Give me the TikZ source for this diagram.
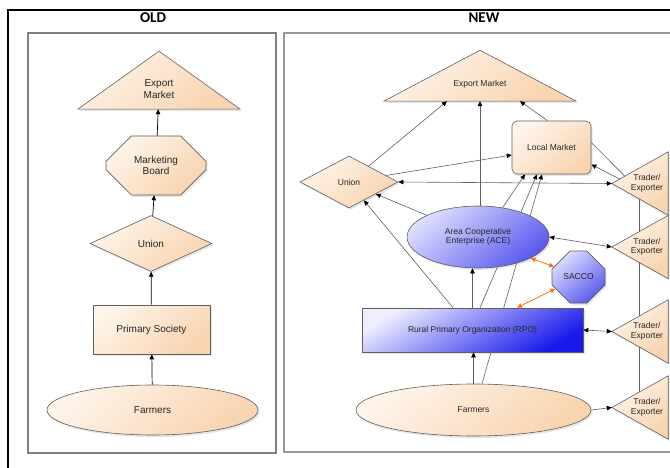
\documentclass[tikz,border=0pt]{standalone}
\usepackage{fontspec}
\setmainfont{Liberation Sans}
\newfontfamily\titlefont{Carlito}
\usetikzlibrary{shapes.geometric,shapes.misc,arrows.meta,shadows,backgrounds,calc}

\definecolor{peachA}{RGB}{254,244,234}
\definecolor{peachB}{RGB}{248,212,176}
\definecolor{rpoA}{RGB}{238,238,255}
\definecolor{rpoB}{RGB}{25,25,235}
\definecolor{aceA}{RGB}{222,222,255}
\definecolor{aceB}{RGB}{90,90,238}
\definecolor{edgegray}{RGB}{95,95,95}
\definecolor{cashline}{RGB}{255,112,20}

\begin{document}
\begin{tikzpicture}[x=1pt,y=-1pt,
  box/.style={draw=edgegray, line width=0.6pt, inner sep=0pt, text=black!85,
    drop shadow={shadow xshift=1.5pt, shadow yshift=-2pt, opacity=0.2}},
  peach/.style={box, top color=peachA, bottom color=peachB, shading angle=40},
  bluish/.style={box, top color=aceA, bottom color=aceB, shading angle=40},
  tribody/.style={draw=edgegray, line width=0.6pt, top color=peachA, bottom color=peachB, shading angle=40,
    drop shadow={shadow xshift=1.5pt, shadow yshift=-2pt, opacity=0.2}},
  triarea/.style={inner sep=0pt, text=black!85, align=center},
  trader/.style={triarea, minimum width=42pt, minimum height=63pt, font=\fontsize{8.5}{9.5}\selectfont},
  up/.style={draw=black, line width=0.7pt, -{Triangle[length=5pt,width=4.5pt]}},
  link/.style={draw=edgegray, line width=0.6pt, -{Triangle[length=5pt,width=4.5pt,color=black]}},
  both/.style={draw=edgegray, line width=0.6pt, {Triangle[length=5pt,width=4.5pt,color=black]}-{Triangle[length=5pt,width=4.5pt,color=black]}},
  plain/.style={draw=edgegray, line width=0.6pt},
  cash/.style={draw=cashline, line width=0.8pt, {Triangle[length=5pt,width=4.5pt]}-{Triangle[length=5pt,width=4.5pt]}}]
\useasboundingbox (0,0) rectangle (670,468);

% frames
\draw[line width=1.2pt] (8,468) -- (8,10) -- (670,10);
\draw[gray, line width=1.8pt] (28,33) rectangle (276,453);
\draw[gray!80, line width=1.2pt] (672,33) -- (284,33) -- (284,452) -- (672,452);
\node[font=\titlefont\bfseries\fontsize{15}{17}\selectfont] (old) at (153,18) {OLD};
\node[font=\titlefont\bfseries\fontsize{15}{17}\selectfont] (new) at (484,18) {NEW};

% old chain
\begin{scope}[font=\fontsize{10}{11.5}\selectfont]
\node[triarea, minimum width=162pt, minimum height=40pt] (o1) at (159,89) {Export\\Market};
\node[peach, chamfered rectangle, chamfered rectangle xsep=22pt, chamfered rectangle ysep=16pt,
  minimum width=100pt, minimum height=59pt, align=center] (o2) at (156,165.5) {Marketing\\Board};
\node[peach, diamond, minimum width=122pt, minimum height=56pt] (o3) at (151,243.5) {Union};
\node[peach, rectangle, minimum width=117pt, minimum height=49pt] (o4) at (151.5,329.5) {Primary Society};
\node[peach, ellipse, minimum width=211pt, minimum height=50pt] (o5) at (152.5,410) {Farmers};
\end{scope}
\path[up] (o5) -- (o4);
\path[up] (o4) -- (o3);
\path[up] (o3) -- (o2);
\path[up] (o2) -- (o1);

% new network
\begin{scope}[font=\fontsize{8.5}{9.5}\selectfont]
\node[triarea, minimum width=192pt, minimum height=34pt] (n1) at (480,84) {Export Market};
\node[peach, rectangle, rounded corners=5pt, minimum width=79pt, minimum height=53pt] (n2) at (551.5,147.5) {Local Market};
\node[peach, diamond, minimum width=98pt, minimum height=52pt] (n3) at (349,182) {Union};
\node[bluish, ellipse, minimum width=142pt, minimum height=62pt, align=center] (n4) at (478,237) {Area Cooperative\\Enterprise (ACE)};
\node[bluish, chamfered rectangle, chamfered rectangle xsep=15.5pt, chamfered rectangle ysep=15.5pt,
  minimum width=53pt, minimum height=52pt] (n5) at (578.5,277) {SACCO};
\node[box, top color=rpoA, bottom color=rpoB, shading angle=30, rectangle, minimum width=221pt, minimum height=44pt] (n6) at (472.5,330) {Rural Primary Organization (RPO)};
\node[peach, ellipse, minimum width=235pt, minimum height=52pt] (n7) at (473.5,410) {Farmers};
\end{scope}
\node[trader] (t1) at (647,183.5) {Trader/\\Exporter};
\node[trader] (t2) at (647,247) {Trader/\\Exporter};
\node[trader] (t3) at (647,331.5) {Trader/\\Exporter};
\node[trader] (t4) at (647,407.5) {Trader/\\Exporter};
\foreach \i in {1,2,3,4}
  \coordinate (a\i) at ([xshift=-14pt]t\i.west);

% triangle bodies and the links that run behind the boxes
\begin{scope}[on background layer]
\path[plain] ([xshift=-8pt]t1.center) -- ([xshift=-8pt]t4.center);
\path[tribody] (o1.south west) -- ([yshift=58pt]o1.south) -- (o1.south east) -- cycle;
\path[tribody] (n1.south west) -- ([yshift=51pt]n1.south) -- (n1.south east) -- cycle;
\foreach \i in {1,2,3,4}
  \path[tribody] (t\i.north east) -- (a\i) -- (t\i.south east) -- cycle;
\path[link] ([xshift=7.5pt]n6.north) -- ([xshift=-14.5pt]n2.south);
\path[link] ([xshift=8.5pt]n7.north) -- ([xshift=-9.5pt]n2.south);
\end{scope}

\path[link] (n3.39) -- ([xshift=-33pt]n1.south);
\path[link] (n1.south |- n4.north) -- (n1.south);
\path[link] ([xshift=-4pt]n2.north) -- ([xshift=40pt]n1.south);
\path[link] (n3.10) -- ([yshift=-7.5pt]n2.west);
\path[both] (n3.east) -- (a1);
\path[plain] ([yshift=5pt]n2.east) -- ($(a1)!0.23!(t1.north east)$);
\path[link] ($(a1)!0.14!(t1.north east)$) -- ([yshift=-17pt]n2.east);
\path[link] (n4.157) -- (n3.336);
\path[link] ([xshift=-19.5pt]n6.north) -- (n3.309);
\path[link] (n4.50) -- ([xshift=-26.5pt]n2.south);
\path[link] (n6.north) -- (n6.north |- n4.south);
\path[link] (n7.north) -- (n7.north |- n6.south);
\path[both] (n4.east) -- (a2);
\path[both] (n6.east) -- (a3);
\path[link] (n7.east) -- (a4);
\path[cash] (n4.338) -- (n5.157);
\path[cash] (n5.207) -- ([xshift=44.5pt]n6.north);
\end{tikzpicture}
\end{document}
